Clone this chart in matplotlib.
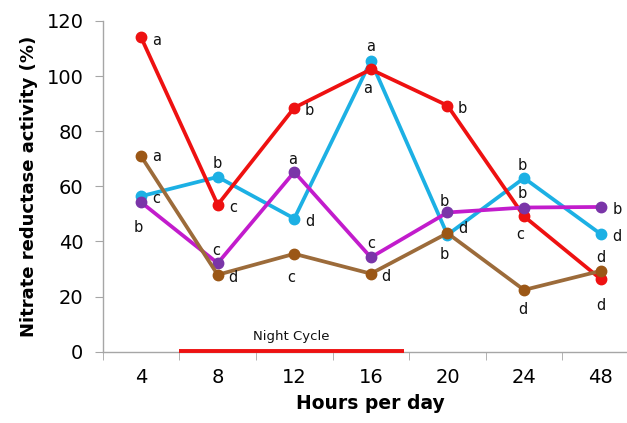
import matplotlib
matplotlib.use("Agg")
import matplotlib.pyplot as plt
import numpy as np

categories = ["4", "8", "12", "16", "20", "24", "48"]

red_vals = [114, 53.3, 88.5, 102.4, 89.3, 49.1, 26.4]
cyan_vals = [56.4, 63.4, 48.3, 105.5, 42.4, 63, 42.7]
purple_vals = [54.2, 32.1, 65.2, 34.2, 50.5, 52.3, 52.5]
brown_vals = [70.9, 27.9, 35.5, 28.3, 43, 22.4, 29.3]

red_letters = ["a", "c", "b", "a", "b", "c", "d"]
cyan_letters = ["c", "b", "d", "a", "b", "b", "d"]
purple_letters = ["b", "c", "a", "c", "b", "b", "b"]
brown_letters = ["a", "d", "c", "d", "d", "d", "d"]

night_start, night_end = 0.5, 3.43
night_label = "Night Cycle"

# label offsets in points (style only)
R, A, B = (11, -2), (0, 10), (-1, -14)
red_off = [R, R, R, (-2, -14), R, (-3, -13), (0, -19)]
cyan_off = [R, A, R, (0, 10), (-2, -14), (-1, 9), (12, -2)]
purple_off = [(-2, -18), (-1, 9), (-1, 9), (0, 10), (-2, 8), (-1, 10), (12, -2)]
brown_off = [(11, 0), R, (-2, -17), (11, -2), (11, 3), (-1, -14), (0, 10)]

fig = plt.figure(figsize=(6.27, 4.23), dpi=100)
ax = fig.add_axes([0.164, 0.1686, 0.855, 0.782])

x = np.arange(len(categories))
series = [
    (cyan_vals, "#1cb0e4", "#1cb0e4", cyan_letters, cyan_off, 2),
    (red_vals, "#ee1111", "#ee1111", red_letters, red_off, 3),
    (purple_vals, "#c21ccc", "#7a35a8", purple_letters, purple_off, 4),
    (brown_vals, "#9c6b3a", "#9b5716", brown_letters, brown_off, 5),
]
for vals, lc, mc, letters, offs, z in series:
    ax.plot(x, vals, color=lc, lw=2.7, zorder=z, solid_capstyle="round")
    ax.plot(x, vals, "o", color=mc, ms=7.5, zorder=z + 0.5)
    for xi, v, t, o in zip(x, vals, letters, offs):
        ax.annotate(t, (xi, v), xytext=o, textcoords="offset points",
                    ha="center", va="center", fontsize=10.5, color="#111111",
                    fontweight="medium", zorder=10)

ax.plot([night_start, night_end], [0.3, 0.3], color="#ee1111", lw=2.8,
        zorder=6, clip_on=False, solid_capstyle="butt")
ax.text(1.96, 5.5, night_label, ha="center", va="center", fontsize=9.5,
        color="#111111", fontweight="medium")

ax.set_xlim(-0.5, 6.5)
ax.set_ylim(0, 120)
ax.set_yticks(np.arange(0, 121, 20))
ax.set_xticks(x)
ax.set_xticklabels(categories)
ax.set_xticks(np.arange(-0.5, 7, 1), minor=True)
ax.tick_params(axis="x", which="major", length=0, pad=12, labelsize=14)
ax.tick_params(axis="x", which="minor", length=6, color="#a6a6a6", direction="out")
ax.tick_params(axis="y", length=6, color="#a6a6a6", labelsize=14, pad=8)

for s in ["top", "right"]:
    ax.spines[s].set_visible(False)
for s in ["left", "bottom"]:
    ax.spines[s].set_color("#a6a6a6")
    ax.spines[s].set_linewidth(1)

ax.set_xlabel("Hours per day", fontsize=13.5, fontweight="bold", labelpad=5)
ax.set_ylabel("Nitrate reductase activity (%)", fontsize=13, fontweight="bold",
              labelpad=6)

fig.savefig("out.png", dpi=100)
